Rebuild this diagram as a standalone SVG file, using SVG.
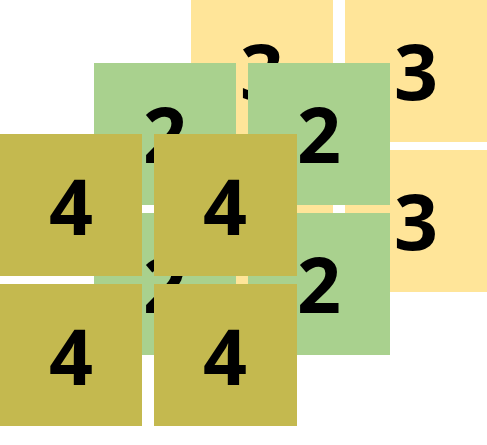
<svg xmlns="http://www.w3.org/2000/svg" width="487" height="445" viewBox="0 0 487 445">
<style>
.y{fill:#FFE599}.g{fill:#A9D18E}.o{fill:#C4B94F}
text{font-family:"Noto Sans","Open Sans",sans-serif;font-weight:bold;font-size:77px;fill:#000;text-anchor:middle}
</style>
<rect width="487" height="445" fill="#fff"/>
<g id="layer3">
<g id="y1"><rect class="y" x="191" y="0" width="142" height="142"/><text x="262" y="100">3</text></g>
<g id="y2"><rect class="y" x="345" y="0" width="142" height="142"/><text x="416" y="100">3</text></g>
<g id="y3"><rect class="y" x="191" y="150" width="142" height="142"/><text x="262" y="250">3</text></g>
<g id="y4"><rect class="y" x="345" y="150" width="142" height="142"/><text x="416" y="250">3</text></g>
</g>
<g id="layer2">
<g id="g1"><rect class="g" x="94" y="63" width="142" height="142"/><text x="165" y="163">2</text></g>
<g id="g2"><rect class="g" x="248" y="63" width="142" height="142"/><text x="319" y="163">2</text></g>
<g id="g3"><rect class="g" x="94" y="213" width="142" height="142"/><text x="165" y="313">2</text></g>
<g id="g4"><rect class="g" x="248" y="213" width="142" height="142"/><text x="319" y="313">2</text></g>
</g>
<g id="layer4">
<g id="o1"><rect class="o" x="0" y="134" width="142" height="142"/><text x="71" y="235">4</text></g>
<g id="o2"><rect class="o" x="154" y="134" width="143" height="142"/><text x="225" y="235">4</text></g>
<g id="o3"><rect class="o" x="0" y="284" width="142" height="142"/><text x="71" y="385">4</text></g>
<g id="o4"><rect class="o" x="154" y="284" width="143" height="142"/><text x="225" y="385">4</text></g>
</g>
<g id="connectors"/>
</svg>
